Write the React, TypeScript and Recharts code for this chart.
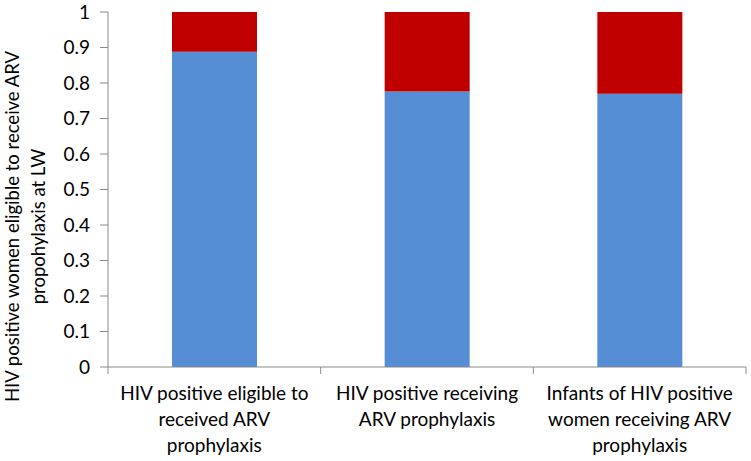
import React from "react";
import { BarChart, Bar, XAxis, YAxis } from "recharts";

const categories = [
  "HIV positive eligible to|received ARV|prophylaxis",
  "HIV positive receiving|ARV prophylaxis",
  "Infants of HIV positive|women receiving ARV|prophylaxis",
];
const blueValues = [0.888, 0.776, 0.77];
const redValues = [0.112, 0.224, 0.23];
const yTicks = [0, 0.1, 0.2, 0.3, 0.4, 0.5, 0.6, 0.7, 0.8, 0.9, 1];
const yLabelLines = ["HIV positive women eligible to receive ARV", "propohylaxis at LW"];

const data = categories.map((c, i) => ({ name: c, blue: blueValues[i], red: redValues[i] }));

const FONT = "Lato, 'Open Sans', sans-serif";
const W = 751;
const H = 461;
const M = { top: 12, right: 5, left: 0, bottom: 0 };
const Y_W = 108;
const X_H = 94;
const PLOT_W = W - M.left - M.right - Y_W;
const BAND = PLOT_W / categories.length;

const XTick = (props: any) => {
  const { x, y, payload, index } = props;
  const lines = String(payload.value).split("|");
  const half = BAND / 2;
  return (
    <g>
      <line x1={x - half} y1={y - 8} x2={x - half} y2={y - 1} stroke="#898989" />
      {index === categories.length - 1 && (
        <line x1={x + half} y1={y - 8} x2={x + half} y2={y - 1} stroke="#898989" />
      )}
      <text textAnchor="middle" fontFamily={FONT} fontSize={19} fill="#000">
        {lines.map((l, i) => (
          <tspan key={i} x={x} y={y + 25 + i * 26}>
            {l}
          </tspan>
        ))}
      </text>
    </g>
  );
};

const YLabel = (props: any) => {
  const vb = props.viewBox || {};
  const cy = (vb.y ?? 12) + (vb.height ?? 355) / 2 + 37;
  return (
    <text
      transform={`rotate(-90, 0, ${cy})`}
      textAnchor="middle"
      fontFamily={FONT}
      fontSize={18.5}
      fill="#000"
    >
      {yLabelLines.map((l, i) => (
        <tspan key={i} x={0} y={cy + 19 + i * 26}>
          {l}
        </tspan>
      ))}
    </text>
  );
};

export default function App() {
  return (
    <div style={{ position: "absolute", left: 0, top: 0, width: W, height: H, background: "#fff" }}>
      <BarChart width={W} height={H} data={data} margin={M} barCategoryGap="20%">
        <XAxis
          dataKey="name"
          height={X_H}
          interval={0}
          tick={<XTick />}
          tickLine={false}
          axisLine={{ stroke: "#898989" }}
        />
        <YAxis
          width={Y_W}
          domain={[0, 1]}
          ticks={yTicks}
          interval={0}
          tickFormatter={(v: number) => String(Math.round(v * 10) / 10)}
          tick={{ fontFamily: FONT, fontSize: 19, fill: "#000" }}
          tickSize={8}
          tickMargin={10}
          tickLine={{ stroke: "#898989" }}
          axisLine={{ stroke: "#898989" }}
          label={<YLabel />}
        />
        <Bar dataKey="blue" stackId="a" fill="#558ED5" isAnimationActive={false} barSize={85} />
        <Bar dataKey="red" stackId="a" fill="#C00000" isAnimationActive={false} barSize={85} />
      </BarChart>
    </div>
  );
}
